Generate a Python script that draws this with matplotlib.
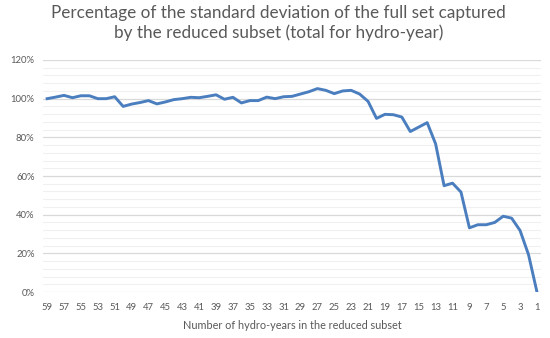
import matplotlib
matplotlib.use("Agg")
import matplotlib.pyplot as plt
from matplotlib.ticker import MultipleLocator, FuncFormatter

# number of hydro-years (59 down to 1)
years = list(range(59, 0, -1))
pct = [100, 100.8, 101.7, 100.5, 101.5, 101.5, 100, 100, 101, 96,
       97.2, 98, 99, 97.3, 98.3, 99.5, 100, 100.7, 100.5, 101.2,
       102, 99.7, 100.7, 97.8, 99, 99, 100.8, 100, 101, 101.2,
       102.4, 103.6, 105.2, 104.3, 102.6, 104, 104.3, 102.4, 98.6, 89.8,
       91.9, 91.7, 90.5, 83, 85.3, 87.6, 76.6, 55, 56.3, 51.7,
       33.2, 34.8, 34.8, 36, 39.2, 38.2, 31.8, 19.3, 0]
tick_labels = [str(y) for y in range(59, 0, -2)]

plt.rcParams["font.family"] = ["Lato", "DejaVu Sans"]
grey = "#595959"

fig = plt.figure(figsize=(5.5, 3.38), dpi=100)
ax = fig.add_axes([0.078, 0.136, 0.906, 0.6865])

ax.plot(years, pct, color="#4A7EBF", lw=2.1, solid_joinstyle="round")

ax.set_xlim(59.5, 0.5)
ax.set_ylim(0, 120)
ax.set_xticks(range(59, 0, -2))
ax.set_xticklabels(tick_labels)
ax.yaxis.set_major_locator(MultipleLocator(20))
ax.yaxis.set_minor_locator(MultipleLocator(4))
ax.yaxis.set_major_formatter(FuncFormatter(lambda v, p: f"{v:.0f}%"))

ax.grid(axis="y", which="major", color="#d9d9d9", lw=0.9)
ax.grid(axis="y", which="minor", color="#f0f0f0", lw=0.8)
ax.set_axisbelow(True)
for s in ax.spines.values():
    s.set_visible(False)
ax.tick_params(which="both", length=0, labelsize=6.8, labelcolor=grey)
ax.tick_params(axis="x", pad=8)
ax.tick_params(axis="y", pad=6)

ax.set_xlabel("Number of hydro-years in the reduced subset", fontsize=7.8, color=grey, labelpad=6)
fig.text(0.506, 0.985, "Percentage of the standard deviation of the full set captured\nby the reduced subset (total for hydro-year)",
         ha="center", va="top", fontsize=12.3, color=grey, linespacing=1.25)

fig.savefig("out.png", dpi=100)
